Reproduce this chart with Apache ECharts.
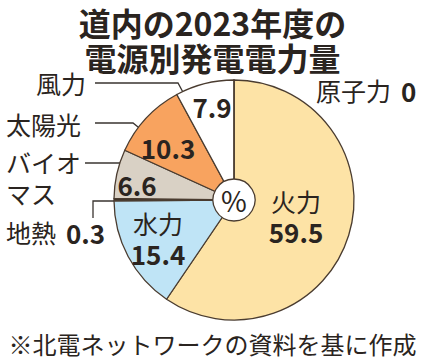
<!DOCTYPE html>
<html><head><meta charset="utf-8">
<script src="https://cdn.jsdelivr.net/npm/echarts@6/dist/echarts.min.js"></script>
<style>html,body{margin:0;padding:0;background:#fff}#c{width:425px;height:363px}</style>
</head><body><div id="c"></div>
<script>
// ---- data ----
const names = ['火力','水力','地熱','バイオマス','太陽光','風力','原子力'];
const values = [59.5, 15.4, 0.3, 6.6, 10.3, 7.9, 0];
const valueLabels = ['59.5','15.4','0.3','6.6','10.3','7.9','0'];
const nameLabels = ['火力','水力','地熱','バイオ\nマス','太陽光','風力','原子力'];
const titleLines = ['道内の2023年度の', '電源別発電電力量'];
const sourceText = '※北電ネットワークの資料を基に作成';

// ---- styles / layout ----
const colors = ['#fde3a6','#bfe4f6','#2e2622','#d9d1c5','#f8a35f','#ffffff','#ffffff'];
const ink = '#2a2420';
const FONT = '"Noto Sans CJK JP", "Noto Sans", sans-serif';
const CENTER = [234, 200];
const R = 120;

// inner label anchors (value labels)
const innerPos = {0: [296, 216], 1: [158, 238], 3: [137, 184], 4: [168, 147], 5: [212, 106]};
// outer label anchors and leader lines
const outerPos = {
  2: {x: 6, y: 232, line: [[93, 218], [93, 201], [114, 201]]},
  3: {x: 6, y: 177, line: [[85, 163], [121, 163]]},
  4: {x: 6, y: 124, line: [[95, 123], [133, 123], [143, 131]]},
  5: {x: 36, y: 83, line: [[95, 83], [178, 83], [185, 96]]},
  6: {x: 316, y: 90, line: null}
};

const chart = echarts.init(document.getElementById('c'), null, {renderer: 'svg'});

const rich = {
  n: {fontSize: 25, color: ink, fontFamily: FONT, lineHeight: 31},
  v: {fontSize: 26, fontWeight: 'bold', color: ink, fontFamily: FONT, lineHeight: 31},
  g: {fontSize: 26, fontWeight: 'bold', color: ink, fontFamily: FONT, lineHeight: 31, padding: [0, 0, 0, 10]}
};

const mainData = names.map((n, i) => ({
  name: n, value: values[i],
  itemStyle: {color: colors[i]},
  label: {show: innerPos[i] !== undefined}
}));

const outerData = names.map((n, i) => ({
  name: n, value: values[i],
  label: {show: outerPos[i] !== undefined},
  labelLine: {show: !!(outerPos[i] && outerPos[i].line)}
}));

const option = {
  backgroundColor: '#ffffff',
  animation: false,
  title: [
    {text: titleLines[0], left: 'center', top: 0,
     textStyle: {fontFamily: FONT, fontSize: 32, fontWeight: 'bold', color: ink, lineHeight: 34}},
    {text: titleLines[1], left: 'center', top: 35,
     textStyle: {fontFamily: FONT, fontSize: 32, fontWeight: 'bold', color: ink, lineHeight: 34}},
    {text: sourceText, left: 'center', top: 324,
     textStyle: {fontFamily: FONT, fontSize: 24, fontWeight: 'normal', color: ink, lineHeight: 28}}
  ],
  series: [
    {
      type: 'pie', center: CENTER, radius: [0, R], startAngle: 90, clockwise: true,
      avoidLabelOverlap: false, silent: true,
      itemStyle: {borderColor: '#4a3c30', borderWidth: 1.3},
      data: mainData,
      label: {
        position: 'inside', rich: rich,
        formatter: p => (p.dataIndex <= 1 ? '{n|' + names[p.dataIndex] + '}\n{v|' + valueLabels[p.dataIndex] + '}' : '{v|' + valueLabels[p.dataIndex] + '}')
      },
      labelLine: {show: false},
      labelLayout: p => {
        const pos = innerPos[p.dataIndex];
        if (!pos) return {};
        return {x: pos[0], y: pos[1], align: 'center', verticalAlign: 'middle'};
      }
    },
    {
      type: 'pie', center: CENTER, radius: [0, R], startAngle: 90, clockwise: true,
      avoidLabelOverlap: false, silent: true,
      itemStyle: {color: 'rgba(0,0,0,0)', borderWidth: 0},
      data: outerData,
      label: {
        position: 'outside', rich: rich, align: 'left',
        formatter: p => {
          const i = p.dataIndex;
          if (i === 2 || i === 6) return '{n|' + nameLabels[i] + '}{g|' + valueLabels[i] + '}';
          return '{n|' + nameLabels[i].split('\n').join('}\n{n|') + '}';
        }
      },
      labelLine: {show: true, length: 10, length2: 10, lineStyle: {color: '#3a3430', width: 1.3}},
      labelLayout: p => {
        const o = outerPos[p.dataIndex];
        if (!o) return {};
        const r = {x: o.x, y: o.y, align: 'left', verticalAlign: 'middle'};
        if (o.line) r.labelLinePoints = o.line;
        return r;
      }
    },
    {
      type: 'pie', center: CENTER, radius: [0, 21], silent: true,
      itemStyle: {color: '#ffffff', borderColor: '#4a3c30', borderWidth: 1.3},
      data: [{name: '%', value: 1}],
      label: {position: 'center', formatter: '%', fontSize: 28, color: ink, fontFamily: FONT},
      labelLine: {show: false}
    }
  ]
};
chart.setOption(option);
</script>
</body></html>
